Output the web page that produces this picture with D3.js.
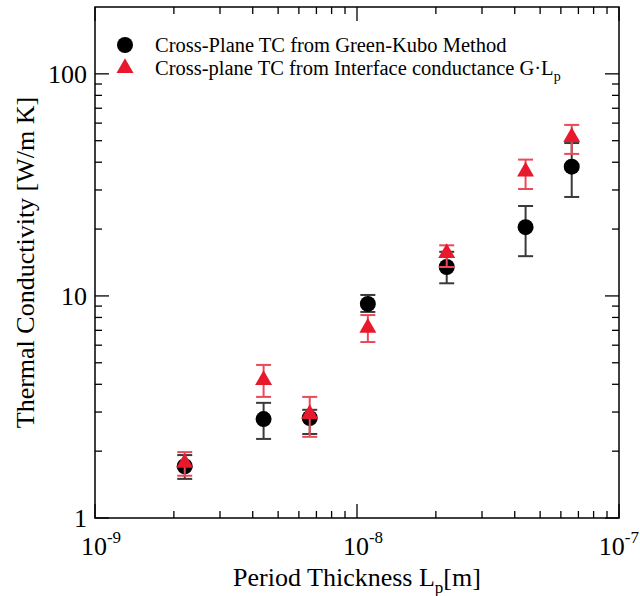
<!DOCTYPE html>
<html>
<head>
    <title>Thermal Conductivity vs Period Thickness</title>
    <script src="https://d3js.org/d3.v7.min.js"></script>
    <style>
        body { margin: 0; background: #fff; }
        svg { display: block; }
        text { font-family: "Liberation Serif", "Times New Roman", serif; fill: #000; }
    </style>
</head>
<body>
    <div id="chart"></div>
    <script>
        // period thickness L_p [m]
        const periodThickness = [2.2e-9, 4.4e-9, 6.6e-9, 1.1e-8, 2.2e-8, 4.4e-8, 6.6e-8];

        // Green-Kubo cross-plane TC and its error range
        const greenKubo     = [1.71, 2.79, 2.82, 9.2, 13.5, 20.4, 38.2];
        const greenKuboLow  = [1.50, 2.27, 2.39, 8.47, 11.4, 15.1, 27.9];
        const greenKuboHigh = [1.92, 3.30, 3.07, 10.1, 15.8, 25.4, 48.8];

        // TC from interface conductance G*Lp and its error range
        const interfaceTC   = [1.77, 4.18, 2.94, 7.18, 15.6, 36.3, 51.9];
        const interfaceLow  = [1.55, 3.51, 2.32, 6.2, 13.5, 30.3, 43.6];
        const interfaceHigh = [1.98, 4.89, 3.51, 8.2, 16.9, 41.1, 58.9];

        const xMajor = [1e-9, 1e-8, 1e-7];
        const xMajorExp = ["-9", "-8", "-7"];
        const yMajor = [1, 10, 100];
        const yMajorLabels = ["1", "10", "100"];

        const width = 640, height = 596;
        const margin = {top: 7, right: 21, bottom: 78, left: 95};
        const red = "#e8192c", redBar = "#ea4a56", blackBar = "#3a3a3a";

        const svg = d3.select("#chart").append("svg")
            .attr("width", width)
            .attr("height", height);

        const x = d3.scaleLog().domain([1e-9, 1e-7]).range([margin.left, width - margin.right]);
        const y = d3.scaleLog().domain([1, 200]).range([height - margin.bottom, margin.top]);

        const x0 = margin.left, x1 = width - margin.right;
        const y0 = height - margin.bottom, y1 = margin.top;

        // ticks, all pointing inward
        const ticks = svg.append("g").attr("stroke", "#000").attr("stroke-width", 1.3);
        const xMinor = [];
        [1e-9, 1e-8].forEach(d => { for (let k = 2; k <= 9; k++) xMinor.push(d * k); });
        const yMinor = [];
        [1, 10, 100].forEach(d => { for (let k = 2; k <= 9; k++) if (d * k < 200) yMinor.push(d * k); });

        xMinor.forEach(v => {
            ticks.append("line").attr("x1", x(v)).attr("x2", x(v)).attr("y1", y0).attr("y2", y0 - 7);
            ticks.append("line").attr("x1", x(v)).attr("x2", x(v)).attr("y1", y1).attr("y2", y1 + 7);
        });
        xMajor.forEach(v => {
            ticks.append("line").attr("x1", x(v)).attr("x2", x(v)).attr("y1", y0).attr("y2", y0 - 14);
            ticks.append("line").attr("x1", x(v)).attr("x2", x(v)).attr("y1", y1).attr("y2", y1 + 14);
        });
        yMinor.forEach(v => {
            ticks.append("line").attr("x1", x0).attr("x2", x0 + 7).attr("y1", y(v)).attr("y2", y(v));
            ticks.append("line").attr("x1", x1).attr("x2", x1 - 7).attr("y1", y(v)).attr("y2", y(v));
        });
        yMajor.forEach(v => {
            ticks.append("line").attr("x1", x0).attr("x2", x0 + 14).attr("y1", y(v)).attr("y2", y(v));
            ticks.append("line").attr("x1", x1).attr("x2", x1 - 14).attr("y1", y(v)).attr("y2", y(v));
        });

        // frame
        svg.append("rect")
            .attr("x", x0).attr("y", y1)
            .attr("width", x1 - x0).attr("height", y0 - y1)
            .attr("fill", "none").attr("stroke", "#000").attr("stroke-width", 1.5);

        // tick labels
        svg.selectAll(".ylab").data(yMajor).enter().append("text")
            .attr("class", "ylab")
            .attr("x", x0 - 8)
            .attr("y", d => y(d) + 9)
            .attr("text-anchor", "end")
            .style("font-size", "26px")
            .text((d, i) => yMajorLabels[i]);

        // last label is pulled in so it stays inside the page
        const xl = svg.selectAll(".xlab").data(xMajor).enter().append("text")
            .attr("class", "xlab")
            .attr("x", (d, i) => i === xMajor.length - 1 ? width - 1 : x(d) + 6)
            .attr("y", y0 + 37)
            .attr("text-anchor", (d, i) => i === xMajor.length - 1 ? "end" : "middle")
            .style("font-size", "26px");
        xl.append("tspan").text("10");
        xl.append("tspan").attr("dy", -12).style("font-size", "17px").text((d, i) => xMajorExp[i]);

        // axis titles
        const xt = svg.append("text")
            .attr("x", (x0 + x1) / 2)
            .attr("y", y0 + 68)
            .attr("text-anchor", "middle")
            .style("font-size", "26px");
        xt.append("tspan").text("Period Thickness L");
        xt.append("tspan").attr("dy", 7).style("font-size", "17px").text("p");
        xt.append("tspan").attr("dy", -7).text("[m]");

        svg.append("text")
            .attr("transform", `translate(34,${(y0 + y1) / 2}) rotate(-90)`)
            .attr("text-anchor", "middle")
            .style("font-size", "26px")
            .text("Thermal Conductivity [W/m K]");

        // error bars + markers
        function errorBars(lo, hi, color) {
            const g = svg.append("g").attr("stroke", color).attr("stroke-width", 2);
            periodThickness.forEach((t, i) => {
                const cx = x(t);
                g.append("line").attr("x1", cx).attr("x2", cx).attr("y1", y(lo[i])).attr("y2", y(hi[i]));
                g.append("line").attr("x1", cx - 7.5).attr("x2", cx + 7.5).attr("y1", y(lo[i])).attr("y2", y(lo[i]));
                g.append("line").attr("x1", cx - 7.5).attr("x2", cx + 7.5).attr("y1", y(hi[i])).attr("y2", y(hi[i]));
            });
        }

        const triangle = d3.symbol().type(d3.symbolTriangle).size(125);

        errorBars(greenKuboLow, greenKuboHigh, blackBar);
        svg.append("g").selectAll("circle").data(greenKubo).enter().append("circle")
            .attr("cx", (d, i) => x(periodThickness[i]))
            .attr("cy", d => y(d))
            .attr("r", 8)
            .attr("fill", "#000");

        errorBars(interfaceLow, interfaceHigh, redBar);
        svg.append("g").selectAll("path").data(interfaceTC).enter().append("path")
            .attr("d", triangle)
            .attr("transform", (d, i) => `translate(${x(periodThickness[i])},${y(d)})`)
            .attr("fill", red);

        // legend
        const legend = svg.append("g");
        legend.append("circle").attr("cx", 125).attr("cy", 45).attr("r", 8).attr("fill", "#000");
        legend.append("path").attr("d", triangle).attr("transform", "translate(125,68)").attr("fill", red);
        legend.append("text").attr("x", 155).attr("y", 52).style("font-size", "20.5px")
            .text("Cross-Plane TC from Green-Kubo Method");
        const l2 = legend.append("text").attr("x", 155).attr("y", 75).style("font-size", "20.5px");
        l2.append("tspan").text("Cross-plane TC from Interface conductance G·L");
        l2.append("tspan").attr("dy", 6).style("font-size", "14px").text("p");
    </script>
</body>
</html>
